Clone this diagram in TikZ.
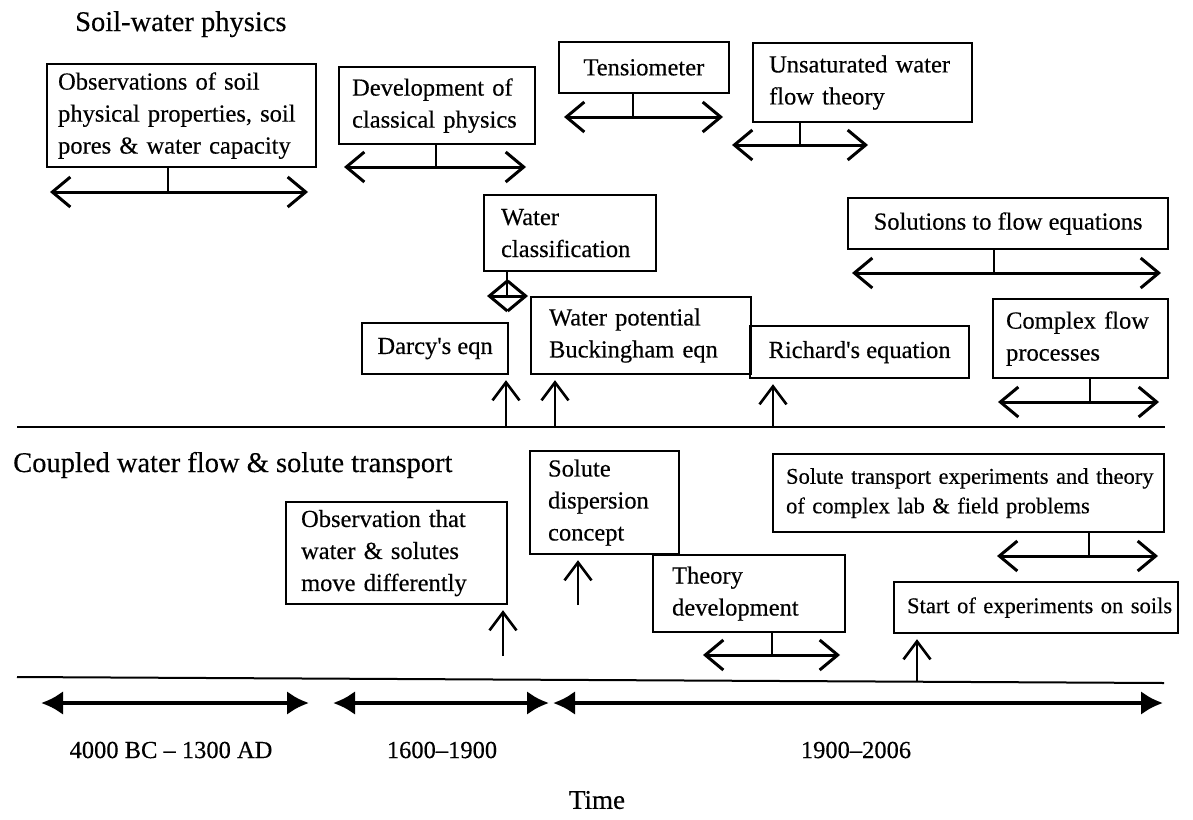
\documentclass[tikz,border=0pt]{standalone}
\usepackage{fontspec}
\setmainfont{Liberation Serif}[FakeBold=0.35]
\usetikzlibrary{arrows.meta}
\begin{document}
\begin{tikzpicture}[x=1pt,y=-1pt,
  box/.style={draw, line width=2.2pt, anchor=north west, inner ysep=0pt, font=\fontsize{24.5pt}{32pt}\selectfont},
  lbox/.style={box, align=left},
  cbox/.style={box, align=center},
  small/.style={font=\fontsize{22.5pt}{29.5pt}\selectfont},
  heading/.style={anchor=base west, inner sep=0pt, font=\fontsize{28.5pt}{34pt}\selectfont},
  period/.style={inner sep=0pt, font=\fontsize{24.5pt}{30pt}\selectfont},
  stem/.style={line width=2pt},
  dbl/.style={line width=3pt, {Straight Barb[length=18pt,width=30pt]}-{Straight Barb[length=18pt,width=30pt]}},
  upar/.style={line width=2.6pt, -{Straight Barb[length=18pt,width=27pt]}, shorten >=5pt},
  base/.style={line width=2pt},
  era/.style={line width=4.5pt, {Latex[length=22pt,width=24pt]}-{Latex[length=22pt,width=24pt]}}
]
\fill[white] (0,0) rectangle (1193,819);
\useasboundingbox (0,0) rectangle (1193,819);

% headings
\node[heading] (h1) at (75,31) {Soil-water physics};
\node[heading] (h2) at (13,472) {Coupled water flow \& solute transport};

% boxes: soil-water physics
\node[lbox, minimum width=269pt, minimum height=103pt, inner xsep=11pt, text width=247pt] (obs) at (46,63)
  {\mbox{Observations of soil}\\\mbox{physical properties, soil}\\\mbox{pores \& water capacity}};
\node[lbox, minimum width=196pt, minimum height=77pt, inner xsep=13pt, text width=170pt] (dev) at (338,66)
  {\mbox{Development of}\\\mbox{classical physics}};
\node[cbox, minimum width=170.5pt, minimum height=50.5pt] (tens) at (557.5,41) {Tensiometer};
\node[lbox, minimum width=219pt, minimum height=79pt, inner xsep=16pt, text width=187pt] (unsat) at (752,42)
  {\mbox{Unsaturated water}\\\mbox{flow theory}};
\node[lbox, minimum width=172pt, minimum height=76pt, inner xsep=17pt, text width=138pt] (wcl) at (483,194)
  {\mbox{Water}\\\mbox{classification}};
\node[cbox, minimum width=146pt, minimum height=51pt] (darcy) at (361,322) {Darcy\textquotesingle{}s eqn};
\node[lbox, minimum width=220pt, minimum height=77pt, inner xsep=18pt, text width=184pt] (wpot) at (530,296)
  {\mbox{Water potential}\\\mbox{Buckingham eqn}};
\node[cbox, minimum width=219pt, minimum height=52pt] (rich) at (749,325) {Richard\textquotesingle{}s equation};
\node[cbox, minimum width=320pt, minimum height=51pt] (sol) at (847,197) {Solutions to flow equations};
\node[lbox, minimum width=175pt, minimum height=79pt, inner xsep=13pt, text width=149pt] (cplx) at (992,298)
  {\mbox{Complex flow}\\\mbox{processes}};

% boxes: coupled flow & transport
\node[lbox, minimum width=221pt, minimum height=102pt, inner xsep=15pt, text width=191pt] (obs2) at (285,501)
  {\mbox{Observation that}\\\mbox{water \& solutes}\\\mbox{move differently}};
\node[lbox, minimum width=149pt, minimum height=103pt, inner xsep=18pt, text width=113pt] (sdisp) at (529,450)
  {\mbox{Solute}\\\mbox{dispersion}\\\mbox{concept}};
\node[lbox, minimum width=192pt, minimum height=77pt, inner xsep=19pt, text width=154pt] (theory) at (652,554)
  {\mbox{Theory}\\\mbox{development}};
\node[lbox, small, minimum width=391pt, minimum height=78pt, inner xsep=13pt, text width=365pt] (stt) at (772,453)
  {\mbox{Solute transport experiments and theory}\\\mbox{of complex lab \& field problems}};
\node[lbox, small, minimum width=284pt, minimum height=51pt, inner xsep=13pt, text width=258pt] (start) at (893,581)
  {\mbox{Start of experiments on soils}};

% span arrow coordinates
\coordinate (obsm) at (168,192); \coordinate (obsl) at (50,192); \coordinate (obsr) at (308,192);
\coordinate (devm) at (436,167); \coordinate (devl) at (344,167); \coordinate (devr) at (526,167);
\coordinate (tensm) at (633,117); \coordinate (tensl) at (564,117); \coordinate (tensr) at (723,117);
\coordinate (unsatm) at (800,145); \coordinate (unsatl) at (732,145); \coordinate (unsatr) at (868,145);
\coordinate (wclm) at (507,296); \coordinate (wcll) at (487,296); \coordinate (wclr) at (528,296);
\coordinate (solm) at (994,273); \coordinate (soll) at (852,273); \coordinate (solr) at (1161,273);
\coordinate (cplxm) at (1090,402); \coordinate (cplxl) at (998,402); \coordinate (cplxr) at (1159,402);
\coordinate (theorym) at (772,655); \coordinate (theoryl) at (703,655); \coordinate (theoryr) at (840,655);
\coordinate (sttm) at (1089,556); \coordinate (sttl) at (997,556); \coordinate (sttr) at (1158,556);

\foreach \n in {obs,dev,tens,unsat,wcl,sol,cplx,theory,stt}{
  \draw[stem] (\n.south -| \n m) -- (\n m);
  \draw[dbl] (\n l) -- (\n r);
}

% baselines
\coordinate (b1l) at (17,427); \coordinate (b1r) at (1165,427);
\coordinate (b2l) at (17,677); \coordinate (b2r) at (1164,683);
\draw[base] (b1l) -- (b1r);
\draw[base] (b2l) -- (b2r);

% upward arrows
\coordinate (darcyb) at (506,427);
\coordinate (wpotb) at (555,427);
\coordinate (richb) at (773,427);
\coordinate (obs2b) at (503,656);
\coordinate (sdispb) at (578,605);
\coordinate (startb) at (917,682);
\foreach \n in {darcy,wpot,rich,obs2,sdisp,start}{
  \draw[upar] (\n b) -- (\n.south -| \n b);
}

% time periods
\coordinate (e1l) at (41,703); \coordinate (e1r) at (309,703);
\coordinate (e2l) at (333,703); \coordinate (e2r) at (549,703);
\coordinate (e3l) at (553,703); \coordinate (e3r) at (1163,703);
\draw[era] (e1l) -- (e1r);
\draw[era] (e2l) -- (e2r);
\draw[era] (e3l) -- (e3r);
\node[period] (p1) at (171,750) {4000 BC -- 1300 AD};
\node[period] (p2) at (442,750) {1600--1900};
\node[period] (p3) at (856,750) {1900--2006};
\node[period, font=\fontsize{27pt}{32pt}\selectfont] (time) at (597,800) {Time};
\end{tikzpicture}
\end{document}
